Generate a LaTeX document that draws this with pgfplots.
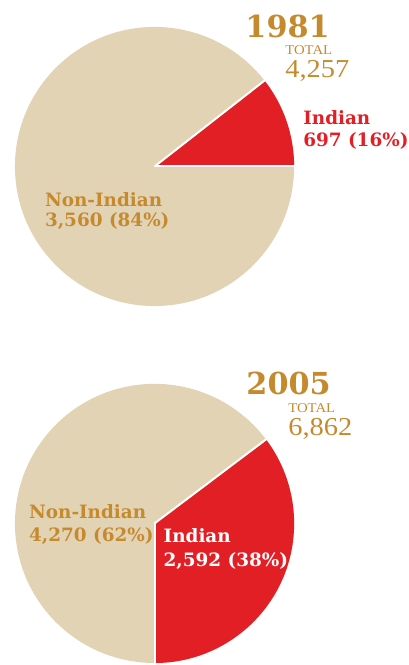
\documentclass[border=0pt]{standalone}
\usepackage{fontspec}
\usepackage{pgfplots}
\pgfplotsset{compat=1.18}
\newfontfamily\lab{DejaVu Serif}
\newfontfamily\num[FakeStretch=1.1]{Liberation Serif}
\definecolor{beige}{RGB}{226,211,180}
\definecolor{indred}{RGB}{227,31,38}
\definecolor{gold}{RGB}{198,138,46}
\tikzset{
  lbl/.style={anchor=base west, inner sep=0, font=\lab\bfseries\fontsize{18.5}{18.5}\selectfont},
  yr/.style={anchor=base west, inner sep=0, text=gold, font=\lab\bfseries\fontsize{30.5}{30.5}\selectfont},
  tot/.style={anchor=base west, inner sep=0, text=gold, font=\num\fontsize{13.5}{13.5}\selectfont},
  totnum/.style={anchor=base west, inner sep=0, text=gold, font=\num\fontsize{26}{26}\selectfont},
  sep/.style={white, line width=2bp},
}
\begin{document}
\begin{tikzpicture}
\begin{axis}[
    width=408bp, height=665bp, scale only axis,
    xmin=0, xmax=408, ymin=0, ymax=665,
    axis lines=none, clip=false,
]
\addplot[draw=none] coordinates {(0,0) (408,665)};

% 1981 pie: red slice drawn from 0 to 38 degrees
\fill[beige] (axis cs:155,498) circle[radius=140];
\fill[indred] (axis cs:155,498) -- (axis cs:295,498) arc[start angle=0, end angle=38, radius=140] -- cycle;
\draw[sep] (axis cs:155,498) -- ++(0:141bp);
\draw[sep] (axis cs:155,498) -- ++(38:141bp);

% 2005 pie: red slice drawn from -90 to 37 degrees
\fill[beige] (axis cs:155,140) circle[radius=140];
\fill[indred] (axis cs:155,140) -- (axis cs:155,0) arc[start angle=-90, end angle=37, radius=140] -- cycle;
\draw[sep] (axis cs:155,140) -- ++(-90:141bp);
\draw[sep] (axis cs:155,140) -- ++(37:141bp);

% 1981 labels
\node[yr] at (axis cs:246,627) {1981};
\node[tot] at (axis cs:286,610) {TOTAL};
\node[totnum] at (axis cs:286,587) {4,257};
\node[lbl, text=indred] at (axis cs:304,540) {Indian};
\node[lbl, text=indred] at (axis cs:304,518) {697 (16\%)};
\node[lbl, text=gold] at (axis cs:45,458) {Non-Indian};
\node[lbl, text=gold] at (axis cs:45,438) {3,560 (84\%)};

% 2005 labels
\node[yr] at (axis cs:247,269) {2005};
\node[tot] at (axis cs:289,251.5) {TOTAL};
\node[totnum] at (axis cs:289,228) {6,862};
\node[lbl, text=gold] at (axis cs:29,145) {Non-Indian};
\node[lbl, text=gold] at (axis cs:29,122) {4,270 (62\%)};
\node[lbl, text=white] at (axis cs:164,121) {Indian};
\node[lbl, text=white] at (axis cs:164,97) {2,592 (38\%)};
\end{axis}
\end{tikzpicture}
\end{document}
